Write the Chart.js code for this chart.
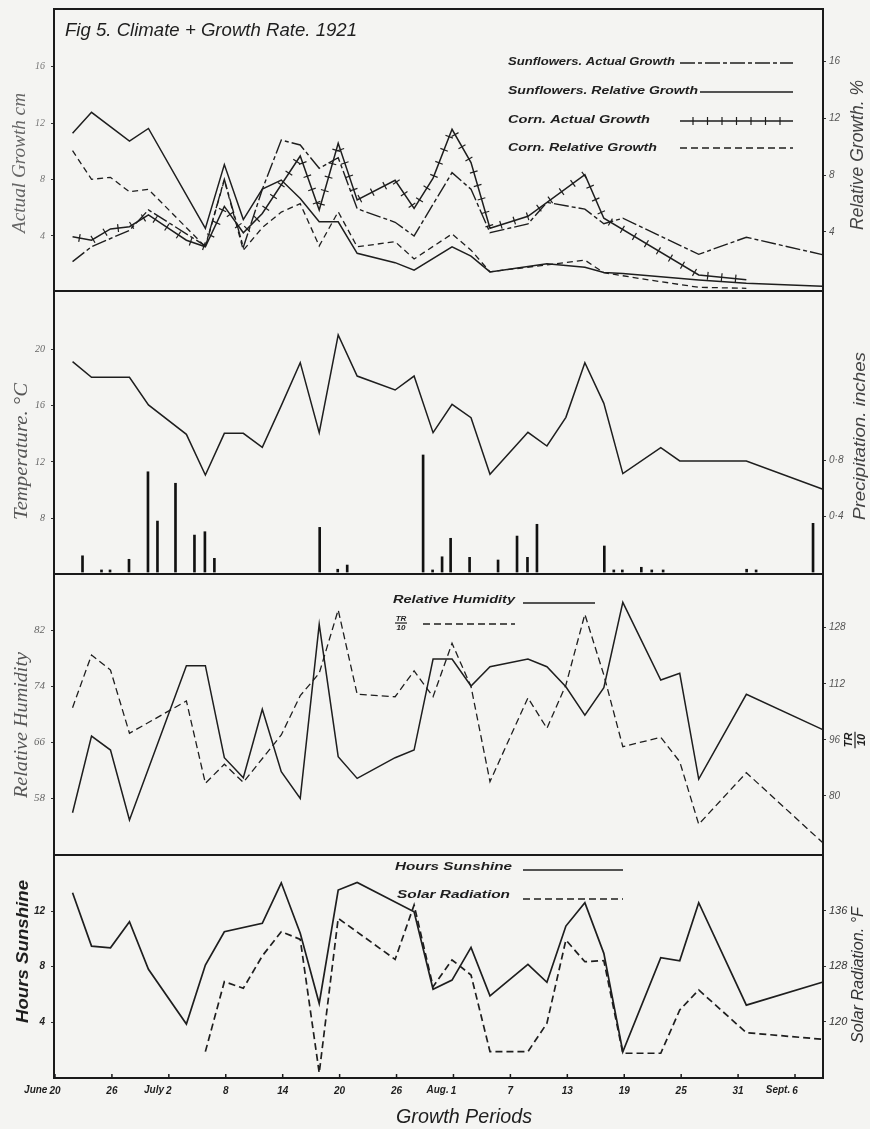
<!DOCTYPE html>
<html><head><meta charset="utf-8">
<script src="https://cdn.jsdelivr.net/npm/chart.js@4.4.1/dist/chart.umd.min.js"></script>
<style>html,body{margin:0;padding:0;background:#f4f4f2;}canvas{display:block;}</style>
</head><body>
<canvas id="c" width="870" height="1129"></canvas>
<script>
// ---- x positions of growth periods (days after June 20) ----
const periodDays = [1.85,3.85,5.85,7.85,9.85,11.85,13.85,15.85,17.85,19.85,21.85,23.85,25.85,27.85,29.85,31.85,33.85,35.85,37.85,39.85,41.85,43.85,45.85,47.85,49.85,51.85,53.85,55.85,57.85,59.85,61.85,63.85,65.85,67.85,72.87,80.87];

// ---- Panel 1: growth ----
const sfActual     = [2.18,3.24,null,4.4,5.85,null,null,3.3,8.02,3.2,7.3,10.8,10.45,8.8,9.55,5.93,null,4.97,4.0,null,8.49,7.31,4.24,null,4.85,6.38,null,5.9,4.87,5.26,null,null,null,2.7,3.91,2.68];
const sfRelative   = [10.95,12.43,null,10.40,11.29,null,null,4.24,8.74,4.86,7.01,7.65,6.35,4.70,4.70,2.48,null,1.82,1.29,null,2.94,2.28,1.17,null,null,1.75,null,1.50,1.12,1.06,null,null,null,0.59,0.36,0.15];
const cornActual   = [3.95,3.7,4.5,4.66,5.5,4.6,3.7,3.24,6.1,4.23,5.6,null,9.67,5.84,10.57,6.55,null,7.95,5.95,8.1,11.56,9.2,4.55,null,5.4,null,null,8.35,5.26,null,null,null,null,1.24,0.9,null];
const cornRelative = [9.72,7.70,7.84,6.82,6.99,null,null,2.94,7.65,2.70,4.29,5.39,5.98,3.00,5.41,2.94,null,3.30,2.08,null,3.85,2.70,1.17,null,null,null,null,2.00,1.11,null,0.68,null,null,0.08,0.01,null];

// ---- Panel 2: temperature & precipitation ----
const temperature  = [19.12,18.01,null,18.01,16.05,null,13.96,11.07,14.03,14.03,13.04,16.0,19.05,14.08,21.02,18.1,null,17.11,18.1,14.08,16.09,15.14,11.12,null,14.1,13.13,15.17,19.05,16.16,11.17,null,13.01,12.07,null,12.07,10.08];
const precipDays   = [2.9,4.9,5.8,7.8,9.8,10.8,12.7,14.7,15.8,16.8,27.9,29.8,30.8,38.8,39.8,40.8,41.7,43.7,46.7,48.7,49.8,50.8,57.9,58.9,59.8,61.8,62.9,64.1,72.9,73.9,79.9];
const precipInches = [0.116,0.015,0.015,0.091,0.716,0.364,0.634,0.264,0.288,0.098,0.319,0.02,0.05,0.836,0.015,0.109,0.241,0.105,0.086,0.257,0.105,0.341,0.186,0.015,0.015,0.034,0.015,0.015,0.02,0.015,0.348];

// ---- Panel 3: humidity & TR/10 ----
const humidity     = [55.94,66.88,64.88,54.9,null,null,76.91,76.91,63.79,60.93,70.69,61.79,57.99,82.81,63.93,60.84,null,63.79,64.88,77.86,77.86,74.01,76.76,null,77.86,76.76,73.9,69.87,73.77,85.95,null,74.87,75.82,60.74,72.83,67.83];
const trOver10     = [105.18,120.2,115.9,97.88,null,null,107.1,83.62,89.04,83.9,null,97.4,108.6,115.0,133.05,109.0,null,108.3,115.65,108.3,123.55,111.2,84.1,null,108.0,99.3,111.66,131.8,114.5,94.06,null,96.74,89.78,71.93,86.64,66.8];

// ---- Panel 4: sunshine & solar radiation ----
const sunshine     = [13.32,9.48,9.36,11.23,7.81,null,3.88,8.12,10.51,null,11.12,14.03,10.4,5.36,13.51,14.06,null,null,11.95,6.38,7.04,9.39,5.91,null,8.17,6.88,10.92,12.6,8.96,1.89,null,8.65,8.43,12.6,5.24,6.88];
const solarRad     = [null,null,null,null,null,null,null,115.67,125.78,124.83,129.5,133.0,131.9,112.6,134.94,null,null,129.0,136.87,125.06,128.92,126.75,115.67,null,115.67,119.77,131.8,128.67,128.82,115.44,null,115.44,121.69,124.58,118.41,117.46];

// ---- tick labels ----
const dateTickDays   = [0,6,12,18,24,30,36,42,48,54,60,66,72,78];
const dateTickLabels = ['20','26','2','8','14','20','26','1','7','13','19','25','31','6'];
const dateTickMonths = ['June','','July','','','','','Aug.','','','','','','Sept.'];
const growthTicks = [4,8,12,16];
const relGrowthTicks = [4,8,12,16];
const tempTicks = [8,12,16,20];
const precipTicks = [0.4,0.8];
const precipTickLabels = ['0·4','0·8'];
const rhTicks = [58,66,74,82];
const trTicks = [80,96,112,128];
const sunTicks = [4,8,12];
const solarTicks = [120,128,136];

const F = "'Liberation Sans','DejaVu Sans',sans-serif";
const FS = "'Liberation Serif','DejaVu Serif',serif";
const INK = '#1e1e1e';

const pts = vals => periodDays.map((d,i)=>({x:d,y:vals[i]}));

function yAxis(pos, weight, stackWeight, min, max, ticks, font, color, labels){
  return {
    type:'linear', axis:'y', position:pos, stack:pos, stackWeight, weight, min, max,
    afterBuildTicks: s => { s.ticks = ticks.map(v=>({value:v})); },
    afterFit: s => { s.width = pos==='left'?54:47; s.paddingTop=0; s.paddingBottom=0; },
    grid:{drawOnChartArea:false, drawTicks:true, tickLength:3, color:'#333', lineWidth:1},
    border:{display:false},
    ticks:{autoSkip:false, padding:pos==='left'?6:3, font, color,
      callback:(v,i)=> labels ? labels[i] : String(v)}
  };
}

function fitText(ctx, text, x1, x2, yc, font, color){
  ctx.save(); ctx.font=font; ctx.fillStyle=color; ctx.textBaseline='middle'; ctx.textAlign='left';
  const w=ctx.measureText(text).width; const s=(x2-x1)/w;
  ctx.translate(x1,yc); ctx.scale(s,1); ctx.fillText(text,0,0); ctx.restore();
}
function fitTextV(ctx, text, xc, y1, y2, font, color){
  ctx.save(); ctx.font=font; ctx.fillStyle=color; ctx.textBaseline='middle'; ctx.textAlign='center';
  const w=ctx.measureText(text).width; const s=(y2-y1)/w;
  ctx.translate(xc,(y1+y2)/2); ctx.rotate(-Math.PI/2); ctx.scale(s,1); ctx.fillText(text,0,0); ctx.restore();
}
function seg(ctx,x1,x2,y,dash,w){
  ctx.save(); ctx.strokeStyle=INK; ctx.lineWidth=w; ctx.setLineDash(dash);
  ctx.beginPath(); ctx.moveTo(x1,y); ctx.lineTo(x2,y); ctx.stroke(); ctx.restore();
}
function fraction(ctx,cx,cy,rot,size){
  ctx.save(); ctx.translate(cx,cy); ctx.rotate(rot);
  ctx.fillStyle=INK; ctx.strokeStyle=INK; ctx.font='italic bold '+size+'px '+F;
  ctx.textAlign='center'; ctx.textBaseline='middle';
  ctx.fillText('TR',0,-size*0.55);
  ctx.lineWidth=1.2; ctx.beginPath(); ctx.moveTo(-size*0.75,0); ctx.lineTo(size*0.75,0); ctx.stroke();
  ctx.fillText('10',0,size*0.6);
  ctx.restore();
}

const crossTicks = {
  id:'crossTicks',
  afterDatasetsDraw(chart){
    chart.data.datasets.forEach((ds,i)=>{
      if(!ds.crossTicks) return;
      const meta=chart.getDatasetMeta(i);
      const p=meta.data.filter(e=>!e.skip && isFinite(e.y));
      const ctx=chart.ctx; ctx.save(); ctx.strokeStyle=INK; ctx.lineWidth=1.2;
      let carry=7; const step=14;
      for(let k=0;k<p.length-1;k++){
        const dx=p[k+1].x-p[k].x, dy=p[k+1].y-p[k].y, L=Math.hypot(dx,dy);
        const ux=dx/L, uy=dy/L; let t=carry;
        while(t<L){
          const cx=p[k].x+ux*t, cy=p[k].y+uy*t;
          ctx.beginPath(); ctx.moveTo(cx-uy*4,cy+ux*4); ctx.lineTo(cx+uy*4,cy-ux*4); ctx.stroke();
          t+=step;
        }
        carry=t-L;
      }
      ctx.restore();
    });
  }
};

const decor = {
  id:'decor',
  afterDraw(chart){
    const ctx=chart.ctx, a=chart.chartArea, S=chart.scales;
    ctx.save();
    ctx.strokeStyle='#1a1a1a'; ctx.lineWidth=2; ctx.setLineDash([]);
    ctx.strokeRect(a.left,a.top,a.right-a.left,a.bottom-a.top);
    ['yL2','yL3','yL4'].forEach(id=>{const y=S[id].top; ctx.beginPath(); ctx.moveTo(a.left,y); ctx.lineTo(a.right,y); ctx.stroke();});
    // inward date tick marks
    ctx.lineWidth=1.5;
    dateTickDays.forEach(d=>{const px=S.x.getPixelForValue(d); ctx.beginPath(); ctx.moveTo(px,a.bottom); ctx.lineTo(px,a.bottom-4); ctx.stroke();});
    ctx.restore();

    // month names before date numbers
    ctx.save();
    ctx.font='italic bold 10px '+F; ctx.fillStyle=INK; ctx.textBaseline='top'; ctx.textAlign='right';
    dateTickDays.forEach((d,i)=>{
      if(!dateTickMonths[i]) return;
      const px=S.x.getPixelForValue(d);
      const w=ctx.measureText(dateTickLabels[i]).width;
      ctx.fillText(dateTickMonths[i], px-w/2-2, S.x.top+7);
    });
    ctx.restore();

    // title
    fitText(ctx,'Fig 5. Climate + Growth Rate. 1921',65,357,31,'italic 18px '+F,INK);

    // legend panel 1
    const LF='italic bold 11px '+F;
    fitText(ctx,'Sunflowers. Actual Growth',508,675,62,LF,INK); seg(ctx,680,793,63,[15,3,4,3],1.4);
    fitText(ctx,'Sunflowers. Relative Growth',508,698,91,LF,INK); seg(ctx,700,793,92,[],1.5);
    fitText(ctx,'Corn. Actual Growth',508,650,120,LF,INK); seg(ctx,680,793,121,[],1.5);
    ctx.save(); ctx.strokeStyle=INK; ctx.lineWidth=1.2;
    for(let x=693;x<785;x+=14.5){ctx.beginPath();ctx.moveTo(x,117);ctx.lineTo(x,125);ctx.stroke();}
    ctx.restore();
    fitText(ctx,'Corn. Relative Growth',508,657,148,LF,INK); seg(ctx,680,793,148,[7,4],1.3);

    // legend panel 3
    fitText(ctx,'Relative Humidity',393,515,600,LF,INK); seg(ctx,523,595,603,[],1.5);
    fraction(ctx,401,623,0,8); seg(ctx,423,515,624,[7,4],1.3);

    // legend panel 4
    fitText(ctx,'Hours Sunshine',395,512,867,LF,INK); seg(ctx,523,623,870,[],1.6);
    fitText(ctx,'Solar Radiation',397,510,895,LF,INK); seg(ctx,523,623,899,[7,4],1.6);

    // axis titles
    fitTextV(ctx,'Actual Growth cm',20,93,233,'italic 18px '+FS,'#666');
    fitTextV(ctx,'Relative Growth. %',858,80,230,'italic 18px '+F,'#444');
    fitTextV(ctx,'Temperature. °C',22,383,520,'italic 18px '+FS,'#555');
    fitTextV(ctx,'Precipitation. inches',860,352,520,'italic 17px '+F,'#444');
    fitTextV(ctx,'Relative Humidity',22,652,798,'italic 18px '+FS,'#555');
    fraction(ctx,855,740,-Math.PI/2,11);
    fitTextV(ctx,'Hours Sunshine',23,880,1023,'italic bold 17px '+F,INK);
    fitTextV(ctx,'Solar Radiation. °F',858,907,1043,'italic 17px '+F,'#333');
    fitText(ctx,'Growth Periods',396,532,1117,'italic 20px '+F,INK);
  }
};

const lineBase = {type:'line', borderColor:INK, pointRadius:0, tension:0, spanGaps:true, fill:false};

new Chart(document.getElementById('c'), {
  type:'line',
  data:{datasets:[
    {...lineBase, label:'Sunflowers. Actual Growth', data:pts(sfActual), yAxisID:'yL1', borderWidth:1.4, borderDash:[15,3,4,3]},
    {...lineBase, label:'Sunflowers. Relative Growth', data:pts(sfRelative), yAxisID:'yR1', borderWidth:1.5},
    {...lineBase, label:'Corn. Actual Growth', data:pts(cornActual), yAxisID:'yL1', borderWidth:1.5, crossTicks:true},
    {...lineBase, label:'Corn. Relative Growth', data:pts(cornRelative), yAxisID:'yR1', borderWidth:1.3, borderDash:[6,4]},
    {...lineBase, label:'Temperature', data:pts(temperature), yAxisID:'yL2', borderWidth:1.5},
    {type:'bar', label:'Precipitation', data:precipDays.map((d,i)=>({x:d,y:precipInches[i]})), yAxisID:'yR2', barThickness:2, backgroundColor:'#111', grouped:false},
    {...lineBase, label:'Relative Humidity', data:pts(humidity), yAxisID:'yL3', borderWidth:1.5},
    {...lineBase, label:'TR/10', data:pts(trOver10), yAxisID:'yR3', borderWidth:1.3, borderDash:[7,4]},
    {...lineBase, label:'Hours Sunshine', data:pts(sunshine), yAxisID:'yL4', borderWidth:1.7},
    {...lineBase, label:'Solar Radiation', data:pts(solarRad), yAxisID:'yR4', borderWidth:1.7, borderDash:[7,4]}
  ]},
  options:{
    responsive:false, animation:false, devicePixelRatio:1,
    layout:{padding:{top:9,left:0,right:0,bottom:0}},
    plugins:{legend:{display:false}, tooltip:{enabled:false}},
    scales:{
      x:{type:'linear', position:'bottom', min:-0.105, max:80.95, offset:false,
        afterBuildTicks:s=>{s.ticks=dateTickDays.map(v=>({value:v}));},
        afterFit:s=>{s.height=51; s.paddingLeft=0; s.paddingRight=0;},
        grid:{drawOnChartArea:false, drawTicks:false, color:'#333'},
        border:{display:false},
        ticks:{autoSkip:false, maxRotation:0, padding:7, font:{family:F, style:'italic', weight:'bold', size:10}, color:INK,
          callback:(v,i)=>dateTickLabels[i]}
      },
      yL1: yAxis('left',4,282,0.1,20.09,growthTicks,{family:FS,style:'italic',size:10},'#777'),
      yL2: yAxis('left',3,283,4.04,24.14,tempTicks,{family:FS,style:'italic',size:10},'#666'),
      yL3: yAxis('left',2,281,49.91,89.99,rhTicks,{family:FS,style:'italic',size:11},'#666'),
      yL4: yAxis('left',1,223,0,16.03,sunTicks,{family:F,style:'italic',weight:'bold',size:10},'#222'),
      yR1: yAxis('right',1,282,-0.18,19.72,relGrowthTicks,{family:F,style:'italic',size:10},'#555'),
      yR2: yAxis('right',2,283,-0.014,2.007,precipTicks,{family:F,style:'italic',size:10},'#555',precipTickLabels),
      yR3: yAxis('right',3,281,63.17,143.3,trTicks,{family:F,style:'italic',size:10},'#555'),
      yR4: yAxis('right',4,223,111.86,144.09,solarTicks,{family:F,style:'italic',size:11},'#333')
    }
  },
  plugins:[crossTicks, decor]
});
</script>
</body></html>
